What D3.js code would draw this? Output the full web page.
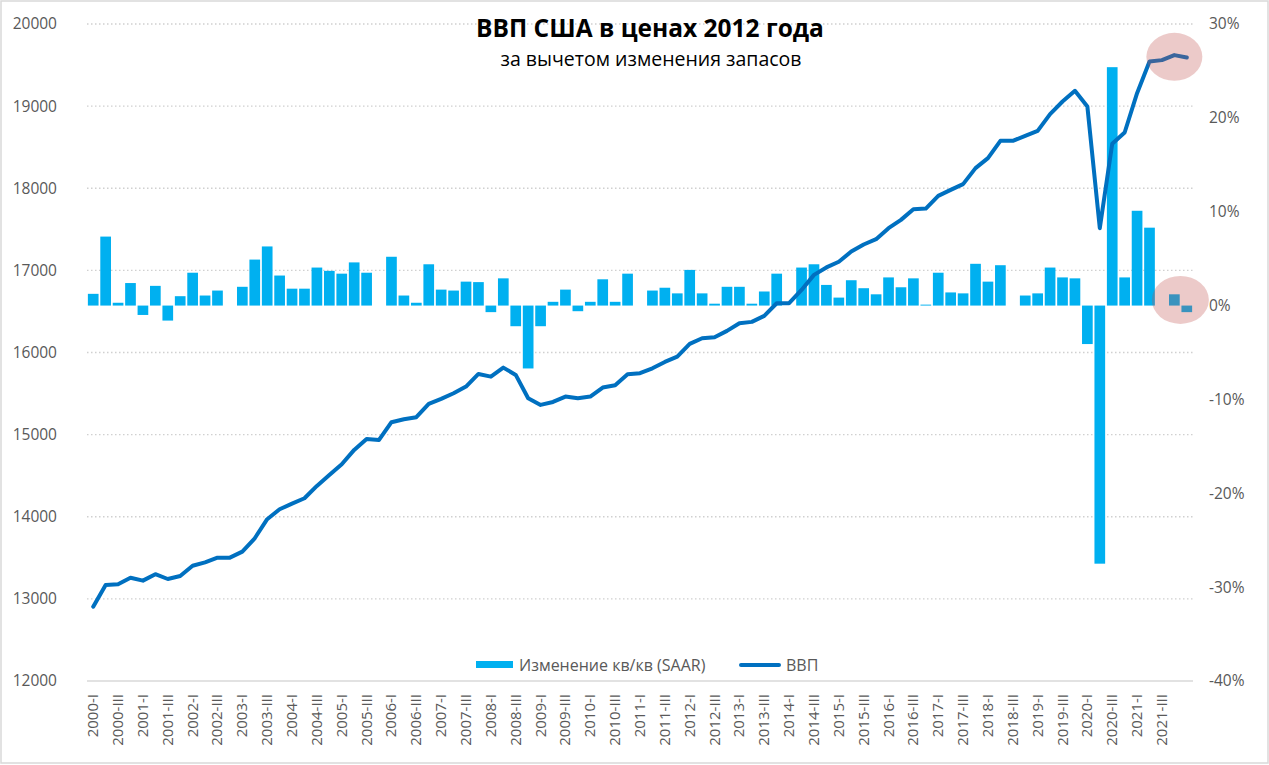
<!DOCTYPE html>
<html><head><meta charset="utf-8">
<script src="https://cdn.jsdelivr.net/npm/d3@7"></script>
<style>
html,body{margin:0;padding:0;background:#fff;}
svg{display:block;font-family:"Open Sans",sans-serif;}
</style></head>
<body>
<svg id="chart" width="1269" height="765"></svg>
<script>
const categories = [
"2000-I","2000-II","2000-III","2000-IV","2001-I","2001-II","2001-III","2001-IV",
"2002-I","2002-II","2002-III","2002-IV","2003-I","2003-II","2003-III","2003-IV",
"2004-I","2004-II","2004-III","2004-IV","2005-I","2005-II","2005-III","2005-IV",
"2006-I","2006-II","2006-III","2006-IV","2007-I","2007-II","2007-III","2007-IV",
"2008-I","2008-II","2008-III","2008-IV","2009-I","2009-II","2009-III","2009-IV",
"2010-I","2010-II","2010-III","2010-IV","2011-I","2011-II","2011-III","2011-IV",
"2012-I","2012-II","2012-III","2012-IV","2013-I","2013-II","2013-III","2013-IV",
"2014-I","2014-II","2014-III","2014-IV","2015-I","2015-II","2015-III","2015-IV",
"2016-I","2016-II","2016-III","2016-IV","2017-I","2017-II","2017-III","2017-IV",
"2018-I","2018-II","2018-III","2018-IV","2019-I","2019-II","2019-III","2019-IV",
"2020-I","2020-II","2020-III","2020-IV","2021-I","2021-II","2021-III","2021-IV",
"2022-I"];

const tickLabels = [
"2000-I","2000-III","2001-I","2001-III","2002-I","2002-III","2003-I","2003-III",
"2004-I","2004-III","2005-I","2005-III","2006-I","2006-III","2007-I","2007-III",
"2008-I","2008-III","2009-I","2009-III","2010-I","2010-III","2011-I","2011-III",
"2012-I","2012-III","2013-I","2013-III","2014-I","2014-III","2015-I","2015-III",
"2016-I","2016-III","2017-I","2017-III","2018-I","2018-III","2019-I","2019-III",
"2020-I","2020-III","2021-I","2021-III"];

// Change q/q SAAR, %
const changeQoQ = [
1.25, 7.35, 0.3, 2.4, -1.0, 2.1, -1.6, 1.0, 3.5, 1.07,
1.6, 0, 2.0, 4.9, 6.3, 3.2, 1.8, 1.8, 4.05, 3.7,
3.4, 4.6, 3.5, 0, 5.2, 1.07, 0.3, 4.4, 1.7, 1.6,
2.55, 2.5, -0.7, 2.9, -2.2, -6.7, -2.2, 0.4, 1.7, -0.6,
0.4, 2.8, 0.4, 3.4, 0, 1.6, 1.9, 1.3, 3.8, 1.3,
0.2, 2.0, 2.0, 0.2, 1.5, 3.4, 0, 4.05, 4.4, 2.2,
0.85, 2.7, 1.85, 1.2, 3.0, 1.95, 2.9, 0.1, 3.5, 1.4,
1.3, 4.45, 2.55, 4.3, 0, 1.07, 1.3, 4.05, 3.0, 2.9,
-4.1, -27.5, 25.4, 3.0, 10.1, 8.3, 0, 1.2, -0.7];

// GDP ex inventories, bn 2012 USD
const gdp = [
12905, 13169, 13178, 13258, 13222, 13300, 13242, 13279, 13404, 13445,
13502, 13502, 13575, 13738, 13970, 14091, 14160, 14225, 14375, 14509,
14639, 14814, 14948, 14935, 15151, 15187, 15212, 15374, 15435, 15504,
15585, 15739, 15706, 15816, 15727, 15443, 15362, 15398, 15463, 15443,
15463, 15573, 15602, 15736, 15748, 15808, 15885, 15950, 16105, 16174,
16186, 16263, 16357, 16373, 16446, 16600, 16600, 16762, 16945, 17036,
17105, 17229, 17315, 17380, 17514, 17615, 17745, 17753, 17907, 17980,
18050, 18245, 18367, 18577, 18577, 18638, 18699, 18903, 19056, 19186,
18995, 17514, 18541, 18679, 19158, 19543, 19560, 19621, 19592];

const leftTicks = [12000,13000,14000,15000,16000,17000,18000,19000,20000];
const rightTicks = [-40,-30,-20,-10,0,10,20,30];
const highlighted = ["2021-IV","2022-I"];

const title = "ВВП США в ценах 2012 года";
const subtitle = "за вычетом изменения запасов";
const legendBars = "Изменение кв/кв (SAAR)";
const legendLine = "ВВП";

const svg = d3.select("#chart");
const W = 1269, H = 765;
const plot = {left: 87, right: 1193, top: 24, bottom: 681};

svg.append("rect").attr("x",1).attr("y",1).attr("width",W-2).attr("height",H-3)
  .attr("fill","#fff").attr("stroke","#d9d9d9").attr("stroke-width",1.5);

const x = d3.scaleBand().domain(categories).range([plot.left, plot.right]).paddingInner(0.14).paddingOuter(0.07);
const xc = c => x(c) + x.bandwidth()/2;
const yL = d3.scaleLinear().domain([12000,20000]).range([plot.bottom, plot.top]);
const yR = d3.scaleLinear().domain([-40,30]).range([plot.bottom, plot.top]);

// gridlines
const grid = svg.append("g");
grid.selectAll("line").data(leftTicks.filter(t => t > 12000)).join("line")
  .attr("x1", plot.left).attr("x2", plot.right)
  .attr("y1", d => yL(d)).attr("y2", d => yL(d))
  .attr("stroke","#d0d0d0").attr("stroke-width",1.3).attr("stroke-dasharray","1.5,2.5");
svg.append("line").attr("x1",plot.left).attr("x2",plot.right)
  .attr("y1",yL(12000)).attr("y2",yL(12000)).attr("stroke","#d9d9d9").attr("stroke-width",1.5);

// bars
svg.append("g").selectAll("rect").data(changeQoQ).join("rect")
  .attr("x", (d,i) => x(categories[i]))
  .attr("width", x.bandwidth())
  .attr("y", d => Math.min(yR(d), yR(0)))
  .attr("height", d => Math.abs(yR(d) - yR(0)))
  .attr("fill", "#00b0f0");

// line
const line = d3.line().x((d,i) => xc(categories[i])).y(d => yL(d));
svg.append("path").datum(gdp).attr("d", line)
  .attr("fill","none").attr("stroke","#0070c0").attr("stroke-width",4)
  .attr("stroke-linejoin","round").attr("stroke-linecap","round");

// highlight ellipses
const hx = xc(highlighted[0]);
svg.append("ellipse").attr("cx", hx).attr("cy", yL(19600))
  .attr("rx",28).attr("ry",24).attr("fill","#c0504d").attr("fill-opacity",0.3);
svg.append("ellipse").attr("cx", hx + 6).attr("cy", yR(0.6))
  .attr("rx",28.5).attr("ry",24).attr("fill","#c0504d").attr("fill-opacity",0.3);

// left axis labels
svg.append("g").selectAll("text").data(leftTicks).join("text")
  .attr("x", 57).attr("y", d => yL(d)).attr("dy","0.35em")
  .attr("text-anchor","end").attr("font-size",15.5).attr("fill","#595959")
  .text(d => d);

// right axis labels
svg.append("g").selectAll("text").data(rightTicks).join("text")
  .attr("x", 1209).attr("y", d => yR(d)).attr("dy","0.35em")
  .attr("text-anchor","start").attr("font-size",15.5).attr("fill","#595959")
  .text(d => d + "%");

// x labels
svg.append("g").selectAll("text").data(tickLabels).join("text")
  .attr("transform", d => `translate(${xc(d)+5},694) rotate(-90)`)
  .attr("text-anchor","end").attr("font-size",15).attr("fill","#595959")
  .text(d => d);

// legend
const lg = svg.append("g");
lg.append("rect").attr("x",476).attr("y",661).attr("width",37).attr("height",7).attr("fill","#00b0f0");
lg.append("text").attr("x",519).attr("y",671).attr("font-size",16).attr("fill","#595959").text(legendBars);
lg.append("line").attr("x1",741).attr("x2",779).attr("y1",665).attr("y2",665)
  .attr("stroke","#0070c0").attr("stroke-width",4).attr("stroke-linecap","round");
lg.append("text").attr("x",786).attr("y",671).attr("font-size",16).attr("fill","#595959").text(legendLine);

// titles
svg.append("text").attr("x",650).attr("y",37).attr("text-anchor","middle")
  .attr("font-size",24.5).attr("font-weight","bold").attr("fill","#000").text(title);
svg.append("text").attr("x",651).attr("y",66).attr("text-anchor","middle")
  .attr("font-size",19.5).attr("fill","#000").text(subtitle);
</script>
</body></html>
